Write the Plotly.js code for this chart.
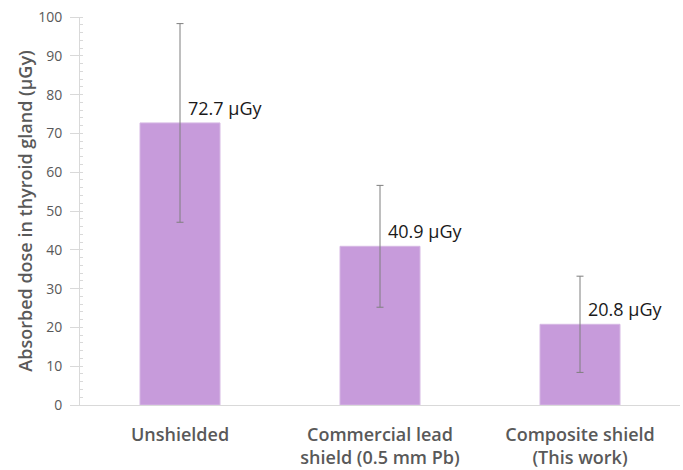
<!DOCTYPE html>
<html>
<head>
<meta charset="utf-8">
<script src="https://cdn.plot.ly/plotly-3.0.1.min.js"></script>
<style>html,body{margin:0;padding:0;background:#fff;}#chart{width:683px;height:470px;}</style>
</head>
<body>
<div id="chart"></div>
<script>
const categories = ["Unshielded", "Commercial lead<br>shield (0.5 mm Pb)", "Composite shield<br>(This work)"];
const doses = [72.7, 40.9, 20.8];
const errors = [25.6, 15.7, 12.4];
const doseLabels = ["72.7 μGy", "40.9 μGy", "20.8 μGy"];
const yTicks = [0, 10, 20, 30, 40, 50, 60, 70, 80, 90, 100];

const FONT = "Open Sans, Liberation Sans, sans-serif";

const trace = {
  type: "bar",
  x: categories,
  y: doses,
  width: 0.4,
  marker: {color: "#C79BDB", line: {color: "#D6B8E4", width: 1}},
  error_y: {type: "data", array: errors, visible: true, color: "#7F7F7F", thickness: 1, width: 3.5},
  hoverinfo: "none"
};

const annotations = categories.map((c, i) => ({
  x: c, y: doses[i], xref: "x", yref: "y",
  text: doseLabels[i], showarrow: false,
  xanchor: "left", yanchor: "bottom", xshift: 6, yshift: 1,
  font: {family: FONT, size: 18, color: "#1a1a1a"}
}));

const layout = {
  width: 683, height: 470,
  margin: {l: 80, r: 3, t: 17, b: 65},
  paper_bgcolor: "#fff", plot_bgcolor: "#fff",
  showlegend: false,
  font: {family: FONT},
  xaxis: {
    type: "category", range: [-0.5, 2.5],
    showline: true, linecolor: "#D9D9D9", linewidth: 1,
    ticks: "", showgrid: false, zeroline: false, automargin: false,
    ticklabelstandoff: 13,
    tickfont: {family: FONT, size: 18, color: "#595959", weight: 600}
  },
  yaxis: {
    range: [0, 100], tickvals: yTicks, ticktext: yTicks.map(String),
    showline: true, linecolor: "#D9D9D9", linewidth: 1,
    ticks: "outside", ticklen: 9, tickcolor: "#D9D9D9", tickwidth: 1,
    minor: {dtick: 2, ticks: "inside", ticklen: 3, tickcolor: "#D9D9D9", showgrid: false},
    showgrid: false, zeroline: false, automargin: false,
    ticklabelstandoff: 5,
    tickfont: {family: FONT, size: 14, color: "#595959"},
    title: {text: "Absorbed dose in thyroid gland (μGy)", standoff: 0,
      font: {family: FONT, size: 18, color: "#595959", weight: 600}}
  },
  annotations: annotations
};

Plotly.newPlot("chart", [trace], layout, {staticPlot: true, displayModeBar: false});
</script>
</body>
</html>
